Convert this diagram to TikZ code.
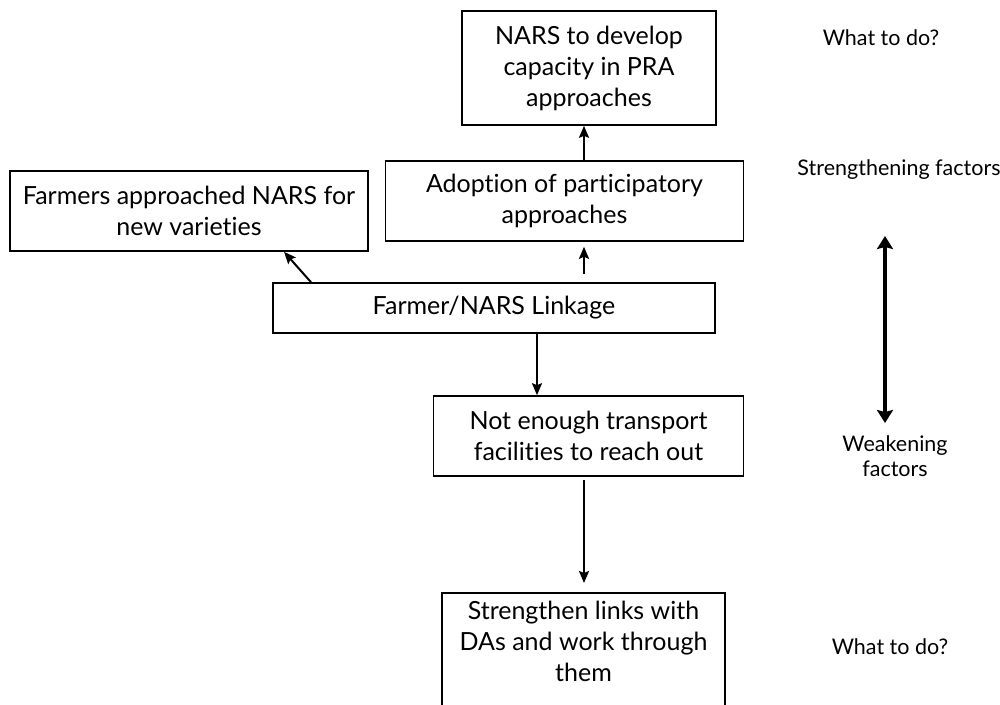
\documentclass[tikz,border=0pt]{standalone}
\usepackage{fontspec}
\setmainfont{Lato}[Ligatures={NoCommon}]
\usetikzlibrary{arrows.meta}
\tikzset{
  boxfont/.style={font=\fontsize{25}{31}\selectfont},
  box/.style={draw, line width=1.6pt, rectangle, align=center, inner sep=0pt, boxfont},
  side/.style={align=center, font=\fontsize{21.5}{25}\selectfont},
  arr/.style={line width=2pt, -{Stealth[length=12pt,width=10pt,inset=2pt]}},
  bigarr/.style={line width=4.6pt, {Stealth[length=13pt,width=16pt,inset=2pt]}-{Stealth[length=13pt,width=16pt,inset=2pt]}}
}
\begin{document}
\begin{tikzpicture}[x=1pt,y=-1pt]
\useasboundingbox (0,0) rectangle (1000,704);
% boxes of the chain
\node[box, minimum width=254, minimum height=114] (top) at (589,68) {NARS to develop\\capacity in PRA\\approaches};
\node[box, minimum width=358, minimum height=80] (adopt) at (564.5,201) {Adoption of participatory\\approaches};
\node[box, minimum width=358, minimum height=80] (farm) at (189,211) {Farmers approached NARS for\\new varieties};
\node[box, minimum width=442, minimum height=50] (link) at (494,308) {Farmer/NARS Linkage};
\node[box, minimum width=310, minimum height=80] (trans) at (588.5,436) {Not enough transport\\facilities to reach out};
\node[box, minimum width=283, minimum height=160, anchor=north] (strong) at (583.5,592) {};
\node[boxfont, align=center, anchor=north] (strongtxt) at ([yshift=-6pt]strong.north) {Strengthen links with\\DAs and work through\\them};
% side labels
\node[side] (what1) at (881,38) {What to do?};
\node[side] (strf) at (899,170) {Strengthening factors};
\node[side] (weakf) at (895,456) {Weakening\\factors};
\node[side] (what2) at (890,647) {What to do?};
\coordinate (scaletop) at (885,236);
\coordinate (scalebot) at (885,423);
% connectors
\draw[arr] ([xshift=19.5pt]adopt.north) -- ([xshift=-5pt]top.south);
\draw[arr, shorten <=8pt, shorten >=5pt] ([xshift=90pt]link.north) -- ([xshift=19.5pt]adopt.south);
\draw[arr] ([xshift=-183pt]link.north) -- ([xshift=95pt]farm.south);
\draw[arr] ([xshift=43pt]link.south) -- ([xshift=-51.5pt]trans.north);
\draw[arr, shorten <=3pt, shorten >=9pt] ([xshift=-4.5pt]trans.south) -- ([xshift=0.5pt]strong.north);
\draw[bigarr] (scaletop) -- (scalebot);
\end{tikzpicture}
\end{document}
